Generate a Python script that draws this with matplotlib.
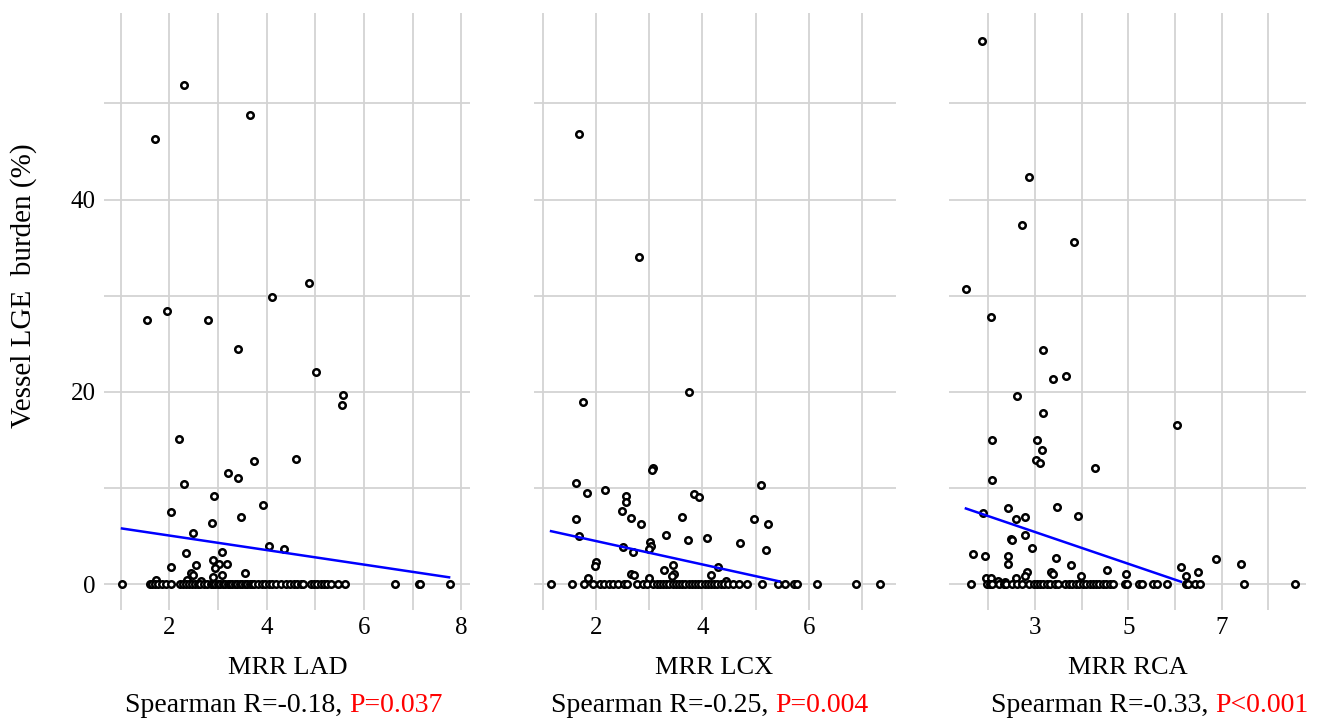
import matplotlib
matplotlib.use("Agg")
import matplotlib.pyplot as plt

plt.rcParams['font.family'] = ['Liberation Serif', 'DejaVu Serif']

# ── data ────────────────────────────────────────────────────
# LAD: points above zero, then the points lying on y = 0
lad_x = [2.30, 3.65, 1.70, 4.87, 4.11, 1.96, 1.55, 2.79, 3.42, 5.02, 5.58, 5.56,
         2.21, 4.61, 3.74, 3.20, 3.42, 2.30, 2.93, 3.93, 2.04, 3.47, 2.87, 2.48,
         4.06, 4.35, 3.08, 2.34, 2.90, 3.02, 3.18, 2.55, 2.03, 2.95, 3.56, 2.44,
         2.48, 3.09, 2.90, 1.72, 2.37, 2.66]
lad_y = [51.9, 48.8, 46.3, 31.3, 29.9, 28.4, 27.5, 27.5, 24.5, 22.1, 19.7, 18.6,
         15.1, 13.0, 12.8, 11.5, 11.0, 10.4, 9.2, 8.2, 7.5, 7.0, 6.3, 5.3,
         4.0, 3.6, 3.3, 3.2, 2.5, 2.1, 2.1, 2.0, 1.8, 1.7, 1.1, 1.1,
         0.9, 0.9, 0.7, 0.45, 0.45, 0.3]
lad_zero_x = [1.03, 1.60, 1.65, 1.70, 1.77, 1.86, 1.93, 2.04, 2.23, 2.29, 2.34, 2.40,
              2.47, 2.54, 2.60, 2.64, 2.71, 2.78, 2.85, 2.90, 2.95, 3.00, 3.05, 3.10,
              3.15, 3.20, 3.25, 3.30, 3.35, 3.40, 3.45, 3.50, 3.55, 3.60, 3.65, 3.70,
              3.75, 3.82, 3.90, 3.97, 4.05, 4.12, 4.20, 4.29, 4.39, 4.49, 4.56, 4.63,
              4.70, 4.74, 4.92, 4.97, 5.04, 5.11, 5.17, 5.24, 5.33, 5.46, 5.61, 6.64,
              7.13, 7.16, 7.77]
lad_fit_x = [1.03, 7.75]
lad_fit_y = [5.78, 0.70]

# LCX
lcx_x = [1.69, 2.80, 3.75, 1.76, 3.08, 3.06, 1.62, 5.09, 2.18, 1.83, 3.84, 3.94,
         2.57, 2.57, 2.49, 3.62, 1.62, 4.96, 2.65, 2.84, 5.22, 1.68, 3.31, 4.08,
         3.73, 4.70, 3.01, 3.03, 2.51, 3.00, 5.19, 2.70, 2.01, 1.99, 4.29, 3.44,
         3.27, 2.66, 2.72, 3.47, 3.43, 4.16, 1.85, 3.00, 4.45]
lcx_y = [46.8, 34.0, 20.0, 18.9, 12.1, 11.9, 10.5, 10.3, 9.8, 9.5, 9.4, 9.1,
         9.2, 8.5, 7.6, 7.0, 6.8, 6.8, 6.9, 6.2, 6.2, 5.0, 5.1, 4.8,
         4.6, 4.3, 4.4, 4.0, 3.9, 3.6, 3.5, 3.3, 2.3, 1.9, 1.8, 2.0,
         1.5, 1.0, 0.9, 1.0, 0.8, 0.9, 0.6, 0.6, 0.3]
lcx_zero_x = [1.16, 1.56, 1.78, 1.94, 2.08, 2.16, 2.24, 2.33, 2.41, 2.53, 2.58, 2.77,
              2.89, 2.95, 3.08, 3.14, 3.20, 3.26, 3.32, 3.38, 3.44, 3.50, 3.56, 3.62,
              3.68, 3.74, 3.80, 3.86, 3.92, 3.98, 4.04, 4.10, 4.16, 4.22, 4.27, 4.35,
              4.40, 4.47, 4.58, 4.69, 4.83, 5.12, 5.41, 5.55, 5.71, 5.77, 6.15, 6.88,
              7.33]
lcx_fit_x = [1.16, 5.44]
lcx_fit_y = [5.50, 0.28]

# RCA
rca_x = [1.86, 2.87, 2.73, 3.84, 1.52, 2.06, 3.18, 3.39, 3.67, 2.61, 3.18, 6.04,
         2.09, 3.05, 3.15, 3.03, 3.11, 4.29, 2.09, 3.48, 2.42, 3.92, 1.88, 2.78,
         2.59, 2.78, 2.49, 2.51, 2.94, 1.67, 1.93, 2.42, 3.46, 6.89, 2.42, 7.42,
         3.77, 4.55, 6.12, 6.49, 2.82, 3.35, 3.38, 4.95, 3.99, 6.24, 2.79, 1.95,
         2.05, 2.59, 2.20, 2.35]
rca_y = [56.5, 42.3, 37.4, 35.6, 30.7, 27.8, 24.3, 21.3, 21.6, 19.6, 17.8, 16.5,
         15.0, 15.0, 13.9, 12.9, 12.6, 12.1, 10.8, 8.0, 7.9, 7.1, 7.4, 7.0,
         6.8, 5.1, 4.7, 4.6, 3.8, 3.1, 2.9, 2.9, 2.7, 2.6, 2.1, 2.1,
         2.0, 1.5, 1.8, 1.3, 1.2, 1.3, 1.0, 1.0, 0.8, 0.8, 0.8, 0.65,
         0.6, 0.65, 0.3, 0.2]
rca_zero_x = [1.62, 1.98, 2.04, 2.07, 2.24, 2.34, 2.39, 2.50, 2.61, 2.72, 2.88, 2.97,
              3.04, 3.11, 3.18, 3.25, 3.32, 3.43, 3.50, 3.65, 3.72, 3.79, 3.88, 3.95,
              4.03, 4.10, 4.17, 4.24, 4.31, 4.38, 4.45, 4.53, 4.61, 4.68, 4.93, 4.97,
              5.22, 5.29, 5.53, 5.61, 5.83, 6.24, 6.29, 6.44, 6.54, 7.49, 8.58]
rca_fit_x = [1.52, 6.13]
rca_fit_y = [7.86, 0.24]

x_labels = ["MRR LAD", "MRR LCX", "MRR RCA"]
r_texts = ["Spearman R=-0.18, ", "Spearman R=-0.25, ", "Spearman R=-0.33, "]
p_texts = ["P=0.037", "P=0.004", "P<0.001"]

# ── figure ─────────────────────────────────────────────────
W, H = 1333, 720
fig = plt.figure(figsize=(W / 100, H / 100), dpi=100)

panels = [
    (lad_x, lad_y, lad_zero_x, lad_fit_x, lad_fit_y, (0.66, 8.18), [2, 4, 6, 8], [1, 3, 5, 7]),
    (lcx_x, lcx_y, lcx_zero_x, lcx_fit_x, lcx_fit_y, (0.84, 7.63), [2, 4, 6], [1, 3, 5, 7]),
    (rca_x, rca_y, rca_zero_x, rca_fit_x, rca_fit_y, (1.16, 8.81), [3, 5, 7], [2, 4, 6, 8]),
]
rects = [(0.078, 0.1528, 0.2746, 0.829),
         (0.4006, 0.1528, 0.2716, 0.829),
         (0.712, 0.1528, 0.2678, 0.829)]
label_centers = [288 / W, 714 / W, 1128 / W]
text_centers = [284 / W, 710 / W, 1150 / W]

grid_col = '#d3d3d3'
axes = []
for i, (px, py, pz, fx, fy, xlim, major, minor) in enumerate(panels):
    ax = fig.add_axes(rects[i])
    axes.append(ax)
    for s in ax.spines.values():
        s.set_visible(False)
    ax.set_xlim(*xlim)
    ax.set_ylim(-2.7, 59.4)
    ax.set_xticks(major)
    ax.set_xticks(minor, minor=True)
    ax.set_yticks([0, 20, 40])
    ax.set_yticks([10, 30, 50], minor=True)
    ax.grid(True, which='both', color=grid_col, linewidth=1.3)
    ax.set_axisbelow(True)
    ax.tick_params(which='both', length=0, labelsize=18, pad=5)
    ax.tick_params(axis='y', pad=6)
    if i > 0:
        ax.set_yticklabels([])

    all_x = list(px) + list(pz)
    all_y = list(py) + [0] * len(pz)
    ax.scatter(all_x, all_y, s=22, facecolors='white', edgecolors='black',
               linewidths=1.8, zorder=3)
    ax.plot(fx, fy, color='#0000ff', linewidth=1.8, zorder=4)

    fig.text(label_centers[i], 1 - 674 / H, x_labels[i], fontsize=19,
             ha='center', va='baseline')

fig.text(24 / W, 1 - 286 / H, "Vessel LGE  burden (%)", fontsize=21,
         rotation=90, ha='center', va='center')

# two-coloured Spearman lines, centred as a whole
fig.canvas.draw()
renderer = fig.canvas.get_renderer()
for i in range(3):
    t1 = fig.text(0, 1 - 712 / H, r_texts[i], fontsize=20, color='black', va='baseline')
    t2 = fig.text(0, 1 - 712 / H, p_texts[i], fontsize=20, color='red', va='baseline')
    w1 = t1.get_window_extent(renderer).width / fig.bbox.width
    w2 = t2.get_window_extent(renderer).width / fig.bbox.width
    start = text_centers[i] - (w1 + w2) / 2
    t1.set_x(start)
    t2.set_x(start + w1)

fig.savefig("out.png", dpi=100)
